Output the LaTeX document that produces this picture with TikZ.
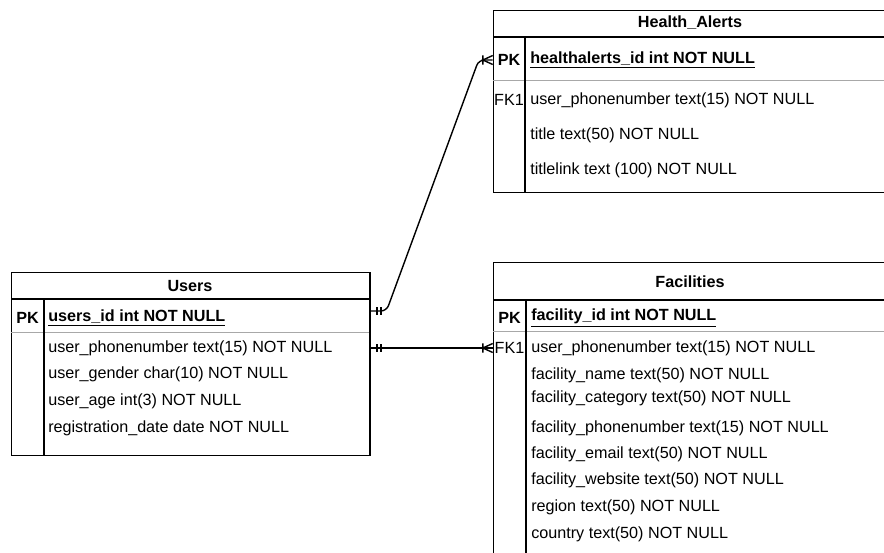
\documentclass[tikz,border=0pt]{standalone}
\usepackage{fontspec}
\setmainfont{Liberation Sans}
\usetikzlibrary{arrows.meta,positioning,calc}
\definecolor{rowline}{HTML}{A8A8A8}
\tikzset{
  tblbox/.style={draw=black, line width=1pt, anchor=north west, inner sep=0pt},
  tblrule/.style={black, line width=1pt},
  pkrule/.style={rowline, line width=0.7pt},
  tbltitle/.style={font=\fontsize{11.5}{14}\selectfont\bfseries},
  keycell/.style={minimum width=0.825cm, inner sep=0pt, font=\fontsize{11.5}{14}\selectfont},
  pkcell/.style={keycell, font=\fontsize{11.5}{14}\selectfont\bfseries},
  fieldtxt/.style={anchor=west, inner sep=0pt, font=\fontsize{11.5}{14}\selectfont},
  pkfield/.style={fieldtxt, font=\fontsize{11.5}{14}\selectfont\bfseries},
  relline/.style={line width=1pt, rounded corners=4pt},
  %% ER end marks
  mandone/.pic={
    \draw[line width=1pt] (4.6pt,-2.6pt) -- (4.6pt,2.6pt) (7.6pt,-2.6pt) -- (7.6pt,2.6pt);
  },
  onemany/.pic={
    \draw[line width=1pt] (0,-3.2pt) -- (-7pt,0) -- (0,3.2pt) (-7pt,-3.3pt) -- (-7pt,3.3pt);
  },
}

\begin{document}
\begin{tikzpicture}[x=0.025cm, y=-0.025cm]
  \useasboundingbox (0,0) rectangle (884,553);
  \clip (0,0) rectangle (884,553);

  %% Users
  \node[tblbox, minimum width=8.95cm, minimum height=4.575cm] (users) at (11,272) {};
  \draw[tblrule] (11,299) -- (369,299);
  \draw[pkrule] (11,332) -- (369,332);
  \draw[tblrule] (44,299) -- (44,455);
  \node[tbltitle] (users-title) at (190,286) {Users};
  \node[pkcell] (u-pk) at (27.5,318) {PK};
  \node[pkfield] (u-id) at (48,318) {\underline{users\_id int NOT NULL}};
  \foreach \y/\txt [count=\i] in {348/user\_phonenumber text(15) NOT NULL,
      374/user\_gender char(10) NOT NULL, 401/user\_age int(3) NOT NULL,
      428/registration\_date date NOT NULL}
    \node[fieldtxt] (u-f\i) at (48,\y) {\txt};

  %% Health_Alerts
  \node[tblbox, minimum width=9.85cm, minimum height=4.55cm] (health) at (493,10) {};
  \draw[tblrule] (493,37) -- (887,37);
  \draw[pkrule] (493,80) -- (887,80);
  \draw[tblrule] (525,37) -- (525,192);
  \node[tbltitle] (h-title) at (690,23) {Health\_Alerts};
  \node[pkcell, minimum width=0.8cm] (h-pk) at (509,60) {PK};
  \node[pkfield] (h-id) at (530,60) {\underline{healthalerts\_id int NOT NULL}};
  \node[keycell, minimum width=0.8cm] (h-fk) at (509,100) {FK1};
  \foreach \y/\txt [count=\i] in {100/user\_phonenumber text(15) NOT NULL,
      135/title text(50) NOT NULL, 170/titlelink text (100) NOT NULL}
    \node[fieldtxt] (h-f\i) at (530,\y) {\txt};

  %% Facilities
  \node[tblbox, minimum width=9.85cm, minimum height=8cm] (facil) at (493,262) {};
  \draw[tblrule] (493,300) -- (887,300);
  \draw[pkrule] (493,331) -- (887,331);
  \draw[tblrule] (526,300) -- (526,582);
  \node[tbltitle] (f-title) at (690,282) {Facilities};
  \node[pkcell] (f-pk) at (509.5,318) {PK};
  \node[pkfield] (f-id) at (531,318) {\underline{facility\_id int NOT NULL}};
  \node[keycell] (f-fk) at (509.5,348) {FK1};
  \foreach \y/\txt [count=\i] in {348/user\_phonenumber text(15) NOT NULL,
      375/facility\_name text(50) NOT NULL, 398/facility\_category text(50) NOT NULL,
      428/facility\_phonenumber text(15) NOT NULL, 454/facility\_email text(50) NOT NULL,
      480/facility\_website text(50) NOT NULL, 507/region text(50) NOT NULL,
      534/country text(50) NOT NULL}
    \node[fieldtxt] (f-f\i) at (531,\y) {\txt};

  %% Relationships
  \coordinate (u-out1) at ($(users.east |- u-pk)+(0,-7)$);
  \coordinate (u-out2) at (users.east |- u-f1);
  \draw[relline] (u-out1) -- ++(16,0) -- ($(h-pk.west)+(-14,0)$) -- (h-pk.west);
  \draw[relline] (u-out2) -- (f-fk.west);
  \pic at (u-out1) {mandone};
  \pic at (u-out2) {mandone};
  \pic at (h-pk.west) {onemany};
  \pic at (f-fk.west) {onemany};
\end{tikzpicture}
\end{document}
